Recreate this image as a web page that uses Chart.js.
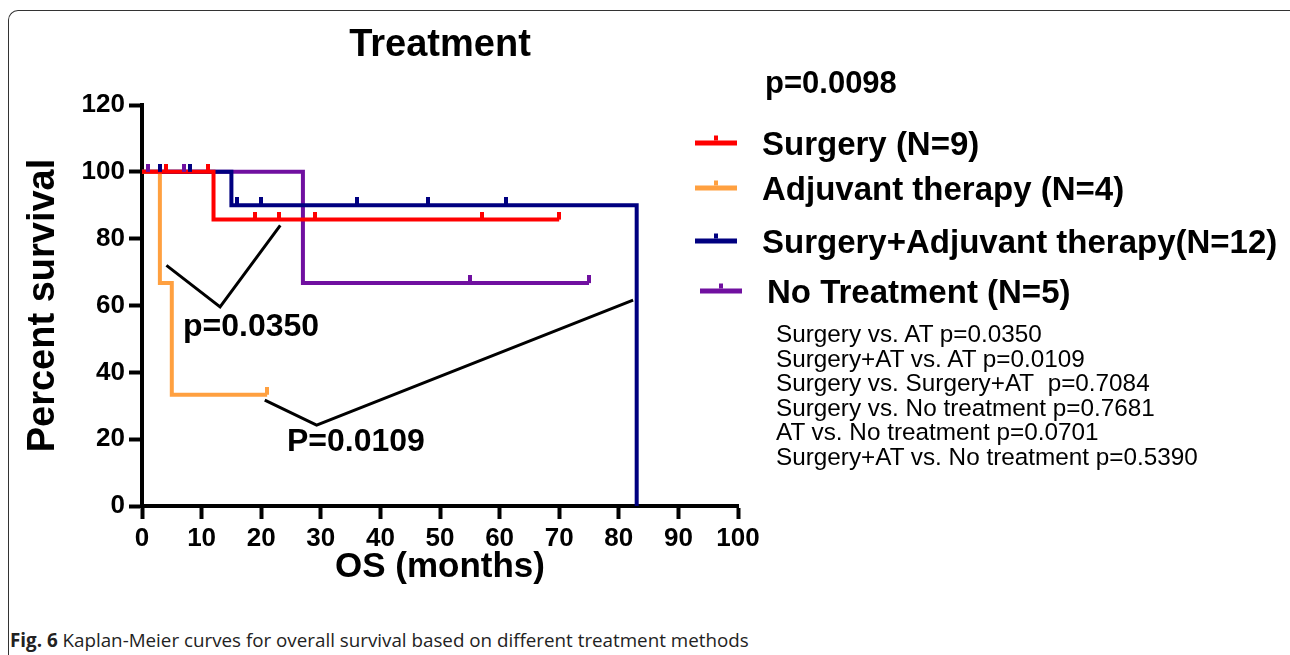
<!DOCTYPE html>
<html>
<head>
<meta charset="utf-8">
<script src="https://cdn.jsdelivr.net/npm/chart.js@4.4.1/dist/chart.umd.min.js"></script>
<style>
  body { margin: 0; width: 1290px; height: 655px; background: #fff; position: relative; overflow: hidden;
         font-family: "Liberation Sans", Arial, sans-serif; color: #000; }
  #frame { position: absolute; left: 8px; top: 10px; width: 1300px; height: 700px;
           border-left: 1.5px solid #333; border-top: 1.5px solid #333; border-top-left-radius: 10px; }
  #wrap { position: absolute; left: 0; top: 0; width: 880px; height: 600px; }
  .txt { position: absolute; white-space: nowrap; transform: translateY(-50%); line-height: 1; }
  .b { font-weight: bold; }
  .sw { position: absolute; height: 5px; transform: translateY(-50%); }
  .sw i { position: absolute; left: 50%; margin-left: -2px; bottom: 5px; width: 4px; height: 5px; background: inherit; }
  #title { position: absolute; left: 440px; top: 43px; transform: translate(-50%, -50%); font-size: 38px; font-weight: bold; line-height: 1; }
  #pairs { position: absolute; left: 776px; top: 322px; font-size: 24.3px; line-height: 24.6px; white-space: nowrap; }
  #caption { position: absolute; left: 10px; top: 627px; font-family: "Open Sans", sans-serif; font-size: 18.8px; color: #222; white-space: nowrap; }
</style>
</head>
<body>
<div id="frame"></div>
<div id="wrap"><canvas id="km"></canvas></div>

<div id="title">Treatment</div>
<div class="txt b" style="left:765px; top:82px; font-size:31px;">p=0.0098</div>
<div id="legend"></div>
<div class="txt b" style="left:183px; top:325px; font-size:32px;">p=0.0350</div>
<div class="txt b" style="left:287px; top:440px; font-size:32px;">P=0.0109</div>

<div id="pairs">
  Surgery vs. AT p=0.0350<br>
  Surgery+AT vs. AT p=0.0109<br>
  Surgery vs. Surgery+AT&nbsp; p=0.7084<br>
  Surgery vs. No treatment p=0.7681<br>
  AT vs. No treatment p=0.0701<br>
  Surgery+AT vs. No treatment p=0.5390
</div>
<div id="caption"><b>Fig. 6</b> Kaplan-Meier curves for overall survival based on different treatment methods</div>

<script>
// groups, same order as the legend
const groups = ['Surgery (N=9)', 'Adjuvant therapy (N=4)', 'Surgery+Adjuvant therapy(N=12)', 'No Treatment (N=5)'];
const colors = ['#ff0000', '#ffa040', '#000080', '#7010a0'];

// KM steps: month of each change and the survival (%) after it
const surgeryT = [0, 12, 70];
const surgeryS = [100, 85.7, 85.7];
const surgeryCensor = [4, 11, 19, 23, 29, 57, 70];

const adjuvantT = [0, 3, 5, 21];
const adjuvantS = [100, 66.7, 33.3, 33.3];
const adjuvantCensor = [21];

const comboT = [0, 15, 83];
const comboS = [100, 90, 0];
const comboCensor = [3, 8, 16, 20, 36, 48, 61];

const noneT = [0, 27, 75];
const noneS = [100, 66.7, 66.7];
const noneCensor = [1, 7, 55, 75];

// the two black comparison brackets
const bracket1X = [4.1, 13.1, 23.2];
const bracket1Y = [72, 59.6, 84];
const bracket2X = [20.6, 29.3, 82.4];
const bracket2Y = [31.7, 24.2, 61.6];

const stepT = [surgeryT, adjuvantT, comboT, noneT];
const stepS = [surgeryS, adjuvantS, comboS, noneS];
const censors = [surgeryCensor, adjuvantCensor, comboCensor, noneCensor];

function pts(xs, ys) {
    return xs.map((x, i) => ({ x: x, y: ys[i] }));
}

// survival value at month t on a step curve
function stepAt(T, S, t) {
    let v = S[0];
    for (let i = 0; i < T.length; i++) if (T[i] <= t) v = S[i];
    return v;
}

// small upward tick used as the censor mark
function tickMark(color) {
    const c = document.createElement('canvas');
    c.width = 4; c.height = 16;
    const g = c.getContext('2d');
    g.fillStyle = color;
    g.fillRect(0, 0, 4, 8);
    return c;
}

// legend in html
const legendRows = [143, 188, 241, 291];
const legendLeft = [695, 695, 695, 700];
let lh = '';
groups.forEach((g, i) => {
    lh += '<div class="sw" style="left:' + legendLeft[i] + 'px; top:' + legendRows[i] + 'px; width:42px; background:' + colors[i] + ';"><i></i></div>';
    lh += '<div class="txt b" style="left:' + (legendLeft[i] + 67) + 'px; top:' + legendRows[i] + 'px; font-size:33px;">' + g + '</div>';
});
document.getElementById('legend').innerHTML = lh;

Chart.defaults.font.family = '"Liberation Sans", Arial, sans-serif';
Chart.defaults.color = '#000';

const datasets = [];
// censor marks on top
censors.forEach((cs, i) => {
    datasets.push({
        data: cs.map(t => ({ x: t, y: stepAt(stepT[i], stepS[i], t) })),
        showLine: false,
        pointStyle: tickMark(colors[i]),
        pointRadius: 3
    });
});
// the survival curves
stepT.forEach((T, i) => {
    datasets.push({
        data: pts(T, stepS[i]),
        stepped: 'before',
        borderColor: colors[i],
        borderWidth: 4,
        pointRadius: 0,
        borderCapStyle: 'butt'
    });
});
datasets.push({ data: pts(bracket1X, bracket1Y), borderColor: '#000', borderWidth: 3, pointRadius: 0 });
datasets.push({ data: pts(bracket2X, bracket2Y), borderColor: '#000', borderWidth: 3, pointRadius: 0 });

const axisGrid = { drawOnChartArea: false, drawTicks: true, tickLength: 13, tickWidth: 4, tickColor: '#000' };

new Chart(document.getElementById('km'), {
    type: 'line',
    data: { datasets: datasets },
    options: {
        responsive: true,
        maintainAspectRatio: false,
        animation: false,
        events: [],
        layout: { padding: { top: 105, right: 142 } },
        plugins: {
            legend: { display: false },
            tooltip: { enabled: false }
        },
        scales: {
            x: {
                type: 'linear', min: 0, max: 100,
                ticks: { stepSize: 10, font: { size: 26, weight: 'bold' }, padding: 4 },
                grid: axisGrid,
                border: { width: 4, color: '#000' },
                title: { display: true, text: 'OS (months)', font: { size: 35, weight: 'bold' }, padding: { bottom: 12 } },
                afterFit: s => { s.height = 94; }
            },
            y: {
                min: 0, max: 120,
                ticks: { stepSize: 20, font: { size: 26, weight: 'bold' }, padding: 4 },
                grid: axisGrid,
                border: { width: 4, color: '#000' },
                title: { display: true, text: 'Percent survival', font: { size: 38, weight: 'bold' }, padding: { top: 21 } },
                afterFit: s => { s.width = 142; }
            }
        }
    }
});
</script>
</body>
</html>
